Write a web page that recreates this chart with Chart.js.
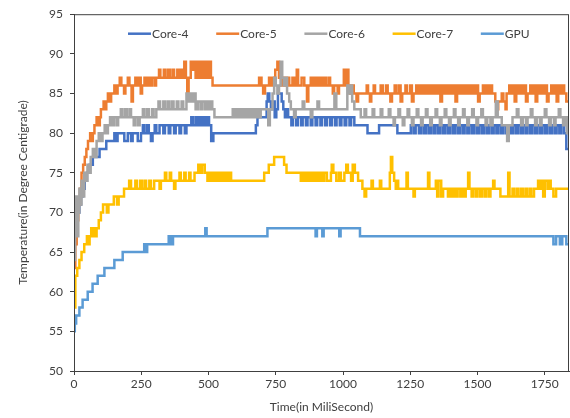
<!DOCTYPE html>
<html>
<head>
<meta charset="utf-8">
<script src="https://cdn.jsdelivr.net/npm/chart.js@4.4.1/dist/chart.umd.min.js"></script>
<style>
  html, body { margin: 0; padding: 0; background: #fff; }
  canvas { display: block; }
</style>
</head>
<body>
<canvas id="chart" width="570" height="418"></canvas>
<script>
// readings as [time in ms, temperature], one pair each time the value changes
const core4 = [[0,66],[4,68],[9,69],[14,70],[20,71],[26,72],[32,73],[40,74],[48,75],[58,76],[70,77],[95,78],[120,79],[150,80],[155,79],[162,80],[187,79],[200,80],[212,79],[218,80],[237,79],[249,80],[256,81],[262,80],[272,81],[278,80],[286,79],[292,80],[300,81],[306,80],[318,81],[332,80],[338,81],[352,80],[358,81],[372,80],[378,81],[392,80],[398,81],[412,80],[418,81],[436,82],[442,81],[452,82],[458,81],[466,82],[472,81],[480,82],[486,81],[494,82],[502,81],[510,79],[518,80],[676,81],[682,82],[716,84],[720,85],[726,84],[732,83],[740,84],[746,82],[752,83],[758,85],[772,84],[778,83],[784,82],[790,83],[796,82],[808,81],[814,82],[826,81],[832,82],[844,81],[850,82],[862,81],[868,82],[880,81],[886,82],[898,81],[904,82],[916,81],[922,82],[934,81],[940,82],[952,81],[958,82],[970,81],[976,82],[988,81],[994,82],[1006,81],[1012,82],[1024,81],[1030,82],[1042,81],[1091,80],[1134,81],[1202,80],[1252,81],[1262,80],[1270,81],[1282,80],[1290,81],[1300,80],[1308,81],[1318,80],[1326,81],[1336,80],[1344,81],[1354,80],[1362,81],[1372,80],[1380,81],[1390,80],[1398,81],[1408,80],[1416,81],[1426,80],[1434,81],[1444,80],[1452,81],[1462,80],[1470,81],[1480,80],[1488,81],[1498,80],[1506,81],[1516,80],[1524,81],[1534,80],[1542,81],[1552,80],[1560,81],[1570,80],[1578,81],[1588,80],[1596,81],[1606,80],[1614,81],[1624,80],[1632,81],[1642,80],[1650,81],[1660,80],[1668,81],[1678,80],[1686,81],[1696,80],[1704,81],[1714,80],[1722,81],[1732,80],[1740,81],[1750,80],[1758,81],[1768,80],[1776,81],[1786,80],[1794,81],[1804,80],[1812,81],[1822,80],[1830,78],[1840,78]]

const core5 = [[0,63],[5,66],[10,69],[16,71],[22,73],[28,75],[34,76],[40,77],[46,78],[52,79],[60,80],[65,79],[70,80],[76,81],[84,82],[92,81],[96,82],[100,83],[110,84],[116,83],[120,84],[126,85],[134,84],[138,85],[150,86],[156,85],[162,86],[170,87],[176,86],[186,85],[191,86],[200,87],[206,86],[214,84],[219,86],[228,87],[234,86],[242,87],[248,85],[253,86],[262,87],[268,86],[276,87],[284,86],[290,87],[300,86],[305,87],[316,88],[321,87],[334,88],[340,87],[350,88],[356,87],[366,88],[372,87],[384,88],[390,87],[398,88],[404,87],[410,89],[416,87],[421,85],[426,87],[434,89],[440,88],[446,89],[452,87],[460,89],[466,87],[474,89],[480,87],[488,89],[494,87],[502,89],[509,87],[515,86],[688,87],[697,86],[703,85],[710,86],[725,87],[731,86],[740,87],[748,88],[756,89],[762,87],[770,86],[778,87],[786,86],[794,87],[800,86],[812,87],[820,86],[828,88],[833,86],[846,87],[856,86],[866,84],[871,86],[880,87],[888,86],[896,87],[904,86],[912,87],[920,86],[928,87],[936,86],[946,87],[952,86],[962,85],[967,86],[980,85],[985,86],[1003,88],[1008,86],[1014,88],[1020,86],[1026,85],[1032,86],[1040,85],[1050,84],[1056,85],[1088,86],[1093,85],[1100,84],[1105,85],[1114,86],[1119,85],[1140,86],[1148,85],[1160,86],[1166,85],[1176,84],[1182,85],[1192,86],[1198,85],[1208,86],[1214,84],[1220,85],[1232,86],[1238,85],[1250,86],[1256,84],[1262,85],[1272,86],[1278,85],[1286,86],[1292,85],[1300,86],[1306,85],[1314,86],[1320,85],[1328,86],[1334,85],[1342,86],[1348,85],[1356,86],[1362,84],[1368,86],[1376,85],[1384,86],[1390,85],[1398,86],[1404,85],[1412,86],[1418,84],[1424,86],[1432,85],[1440,86],[1446,85],[1454,86],[1460,85],[1468,86],[1474,85],[1482,86],[1488,85],[1496,86],[1502,84],[1508,85],[1520,86],[1526,85],[1534,86],[1540,85],[1548,86],[1554,85],[1566,84],[1572,83],[1577,84],[1590,85],[1596,84],[1604,83],[1608,85],[1618,86],[1624,85],[1632,86],[1638,84],[1644,86],[1652,85],[1660,86],[1666,85],[1674,86],[1680,84],[1686,85],[1696,86],[1702,85],[1710,86],[1716,84],[1722,86],[1730,85],[1738,86],[1744,85],[1752,86],[1758,84],[1764,85],[1774,86],[1780,85],[1788,86],[1794,84],[1800,86],[1808,85],[1816,86],[1822,85],[1830,84],[1840,84]]

const core6 = [[0,64],[4,68],[8,72],[12,67],[16,70],[20,73],[24,71],[28,74],[33,72],[38,75],[44,74],[50,76],[56,75],[62,77],[70,78],[78,77],[84,79],[92,80],[100,79],[106,80],[114,81],[120,80],[126,81],[134,82],[140,81],[148,82],[158,81],[164,82],[174,83],[180,82],[190,83],[196,82],[206,83],[212,82],[222,81],[228,82],[238,81],[244,82],[256,83],[262,82],[272,83],[278,82],[290,83],[296,82],[306,83],[314,84],[320,83],[332,84],[338,83],[348,84],[354,83],[364,84],[370,83],[382,84],[388,83],[400,84],[406,83],[418,85],[424,84],[432,85],[438,84],[446,85],[452,83],[460,84],[470,83],[476,84],[486,83],[492,84],[500,83],[508,84],[514,83],[522,82],[590,83],[595,82],[600,83],[605,82],[610,83],[615,82],[620,83],[625,82],[630,83],[635,82],[640,83],[645,82],[650,83],[655,82],[660,83],[665,82],[670,83],[675,82],[680,83],[685,82],[694,83],[722,81],[728,83],[738,85],[744,87],[750,86],[756,85],[762,86],[768,89],[774,87],[780,86],[786,87],[792,85],[800,84],[806,83],[818,82],[824,83],[850,84],[856,83],[880,82],[886,83],[905,84],[911,83],[968,85],[975,83],[1016,86],[1022,85],[1028,86],[1034,84],[1042,83],[1066,82],[1080,83],[1086,82],[1110,83],[1116,82],[1140,83],[1146,82],[1170,83],[1176,82],[1188,81],[1193,82],[1206,83],[1212,82],[1222,81],[1228,82],[1240,83],[1246,82],[1256,81],[1262,82],[1274,83],[1280,82],[1290,81],[1296,82],[1308,83],[1314,82],[1324,81],[1330,82],[1344,83],[1350,82],[1360,81],[1366,82],[1378,83],[1384,82],[1394,81],[1400,82],[1412,83],[1418,82],[1428,81],[1434,82],[1446,83],[1452,82],[1462,81],[1468,82],[1480,83],[1486,82],[1496,81],[1502,82],[1514,83],[1520,82],[1530,81],[1536,82],[1548,81],[1556,82],[1568,84],[1575,82],[1590,81],[1610,79],[1616,81],[1630,82],[1646,83],[1652,82],[1662,81],[1668,82],[1680,81],[1686,82],[1698,83],[1704,82],[1714,81],[1720,82],[1732,81],[1738,82],[1750,83],[1756,82],[1766,81],[1772,82],[1784,81],[1790,82],[1802,83],[1808,82],[1818,81],[1824,82],[1832,80],[1840,80]]

const core7 = [[0,58],[5,62],[12,63],[20,64],[28,65],[38,66],[48,67],[54,66],[58,67],[64,68],[68,67],[72,68],[78,67],[84,68],[92,69],[100,70],[108,71],[122,70],[128,71],[148,72],[160,71],[166,72],[186,73],[205,74],[212,73],[228,74],[234,73],[246,74],[252,73],[262,74],[268,73],[280,74],[286,73],[298,74],[318,73],[323,74],[338,75],[343,74],[356,75],[361,74],[372,73],[377,74],[392,75],[397,74],[410,75],[415,74],[428,75],[433,74],[448,75],[462,76],[467,75],[476,76],[486,75],[496,74],[505,75],[512,74],[520,75],[527,74],[534,75],[541,74],[548,75],[556,74],[562,75],[569,74],[576,75],[584,74],[707,75],[724,76],[744,77],[781,76],[790,75],[843,74],[850,75],[858,74],[866,75],[874,74],[882,75],[890,74],[898,75],[906,74],[914,75],[922,74],[930,75],[940,74],[955,75],[958,76],[964,75],[975,74],[985,75],[992,74],[1005,75],[1012,76],[1018,75],[1030,74],[1036,76],[1044,75],[1056,74],[1072,73],[1080,72],[1086,73],[1106,74],[1111,73],[1137,74],[1142,73],[1174,75],[1178,77],[1183,75],[1190,74],[1196,73],[1200,74],[1205,73],[1236,75],[1241,73],[1262,72],[1267,73],[1316,75],[1321,73],[1345,74],[1350,72],[1355,74],[1365,72],[1372,73],[1390,72],[1396,73],[1405,72],[1411,73],[1420,72],[1426,73],[1436,72],[1442,73],[1450,72],[1456,73],[1465,75],[1470,73],[1478,72],[1484,73],[1494,72],[1500,73],[1510,72],[1516,73],[1526,72],[1532,73],[1542,72],[1548,73],[1558,74],[1563,73],[1585,72],[1614,75],[1619,72],[1630,73],[1636,72],[1646,73],[1652,72],[1662,73],[1668,72],[1678,73],[1684,72],[1694,73],[1700,72],[1710,73],[1725,74],[1732,73],[1738,74],[1744,72],[1750,74],[1760,73],[1765,74],[1772,73],[1782,72],[1792,73],[1840,73]]

const gpu = [[0,55],[3,56],[8,57],[20,58],[32,59],[51,60],[69,61],[88,62],[113,63],[150,64],[181,65],[261,66],[266,65],[272,66],[352,67],[356,66],[360,67],[364,66],[368,67],[488,68],[493,67],[719,68],[898,67],[903,68],[923,67],[928,68],[986,67],[991,68],[1063,67],[1782,66],[1792,67],[1806,66],[1815,67],[1830,66],[1840,66]]

const seriesNames = ['Core-4', 'Core-5', 'Core-6', 'Core-7', 'GPU']
const seriesColors = ['#4472C4', '#ED7D31', '#A5A5A5', '#FFC000', '#5B9BD5']
const seriesData = [core4, core5, core6, core7, gpu]

const xMin = 0, xMax = 1840, xStep = 250
const yMin = 50, yMax = 95, yStep = 5

const textColor = '#404040'
const lineColor = '#404040'
const fontFamily = "Lato, 'Liberation Sans', sans-serif"

// frame round the plot area, like the Excel original
const plotFrame = {
  id: 'plotFrame',
  afterDatasetsDraw(chart) {
    const { ctx, chartArea: a } = chart
    ctx.save()
    ctx.strokeStyle = lineColor
    ctx.lineWidth = 1
    ctx.strokeRect(a.left + 0.5, a.top + 0.5, a.right - a.left - 1, a.bottom - a.top)
    ctx.restore()
  }
}

// legend sits inside the plot area, near the top
const insideLegend = {
  id: 'insideLegend',
  afterDraw(chart) {
    const { ctx, chartArea: a } = chart
    ctx.save()
    ctx.font = '12px ' + fontFamily
    ctx.textBaseline = 'middle'
    chart.data.datasets.forEach((ds, i) => {
      const x = a.left + 54 + i * 88.2
      const y = a.top + 19.5
      ctx.strokeStyle = ds.borderColor
      ctx.lineWidth = 2.5
      ctx.beginPath()
      ctx.moveTo(x, y)
      ctx.lineTo(x + 23, y)
      ctx.stroke()
      ctx.fillStyle = textColor
      ctx.fillText(ds.label, x + 24, y + 0.5)
    })
    ctx.restore()
  }
}

const ctx = document.getElementById('chart').getContext('2d')
new Chart(ctx, {
  type: 'line',
  data: {
    datasets: seriesNames.map((name, i) => ({
      label: name,
      data: seriesData[i].map(([t, v]) => ({ x: t, y: v })),
      borderColor: seriesColors[i],
      backgroundColor: seriesColors[i],
      borderWidth: 2.5,
      pointRadius: 0,
      stepped: true,
      fill: false,
      order: seriesNames.length - i  // later series on top, as in the original
    }))
  },
  options: {
    responsive: false,
    animation: false,
    devicePixelRatio: 1,
    layout: { padding: { top: 12, right: 1, left: 0, bottom: 0 } },
    plugins: {
      legend: { display: false },
      tooltip: { enabled: false }
    },
    scales: {
      x: {
        type: 'linear',
        min: xMin,
        max: xMax,
        afterFit(scale) { scale.height = 47 },
        ticks: {
          stepSize: xStep,
          includeBounds: false,
          color: textColor,
          padding: 2,
          maxRotation: 0,
          callback: (value) => String(value),
          font: { family: fontFamily, size: 12 }
        },
        grid: { drawOnChartArea: false, tickLength: 4, color: lineColor },
        border: { color: lineColor },
        title: {
          display: true,
          text: 'Time(in MiliSecond)',
          color: textColor,
          padding: { top: 0, bottom: 4 },
          font: { family: fontFamily, size: 12 }
        }
      },
      y: {
        min: yMin,
        max: yMax,
        afterFit(scale) { scale.width = 74 },
        ticks: {
          stepSize: yStep,
          color: textColor,
          padding: 7,
          font: { family: fontFamily, size: 12 }
        },
        grid: { drawOnChartArea: false, tickLength: 4, color: lineColor },
        border: { color: lineColor },
        title: {
          display: true,
          text: 'Temperature(in Degree Centigrade)',
          color: textColor,
          padding: { top: 16, bottom: 0 },
          font: { family: fontFamily, size: 12 }
        }
      }
    }
  },
  plugins: [plotFrame, insideLegend]
})
</script>
</body>
</html>
